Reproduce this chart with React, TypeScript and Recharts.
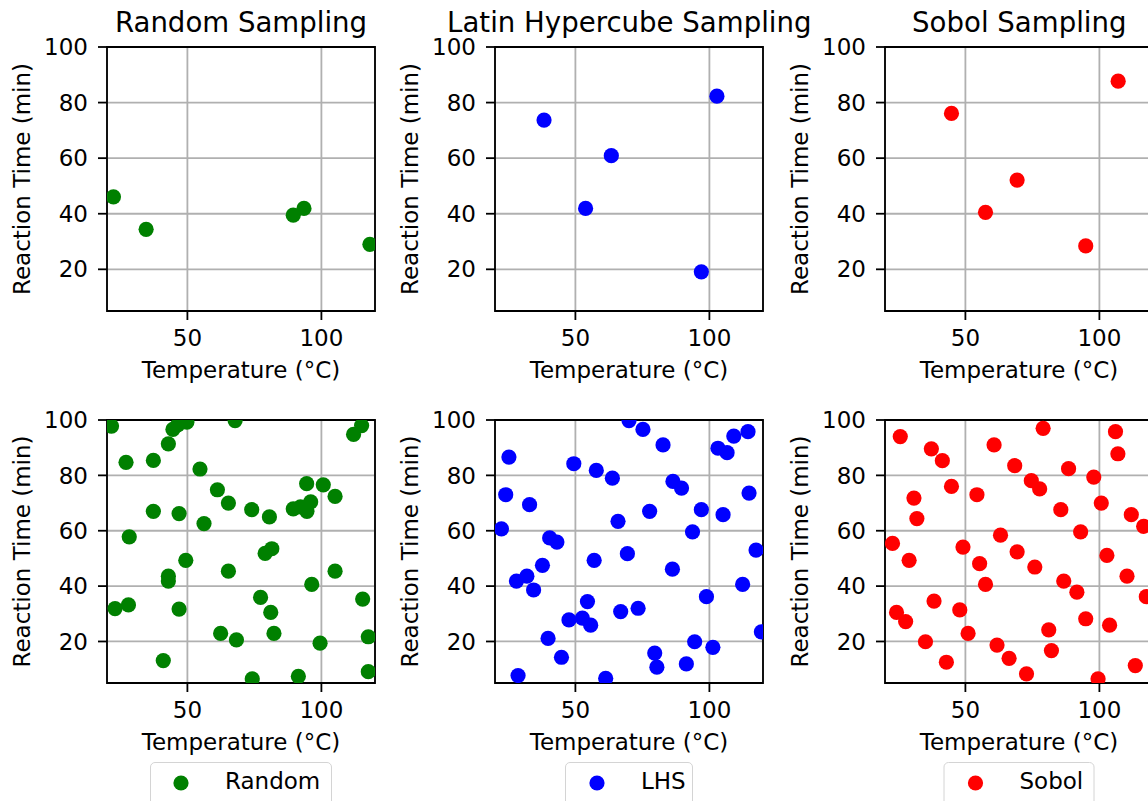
import React from 'react'
import {
  ScatterChart,
  Scatter,
  XAxis,
  YAxis,
  CartesianGrid,
  ReferenceArea,
  Legend,
} from 'recharts'

type Pt = [number, number] // [temperature °C, reaction time min]

// top row: 5 samples each
const randomFive: Pt[] = [[22.4, 46.1], [34.6, 34.4], [89.5, 39.5], [93.5, 41.9], [118.1, 29.0]]
const lhsFive: Pt[] = [[38.3, 73.7], [102.8, 82.3], [63.4, 60.9], [53.8, 41.9], [97.0, 19.1]]
const sobolFive: Pt[] = [[44.8, 76.1], [107.0, 87.7], [69.3, 52.1], [57.5, 40.5], [94.9, 28.4]]

// bottom row: 50 samples each
const randomFifty: Pt[] = [
  [21.7, 97.8], [27.1, 84.7], [37.3, 85.4], [42.9, 91.4], [44.6, 96.6], [46.4, 98.2], [49.8, 99.2],
  [67.8, 99.8], [112.0, 94.8], [115.0, 98.0], [54.7, 82.3], [61.2, 74.8], [65.3, 70.0], [74.0, 67.6],
  [80.6, 65.0], [37.3, 67.0], [46.9, 66.2], [56.2, 62.6], [28.3, 57.8], [94.5, 77.0], [100.7, 76.6],
  [105.1, 72.4], [89.5, 67.9], [92.2, 68.6], [94.6, 67.0], [96.0, 70.4], [79.0, 51.8], [81.5, 53.5],
  [49.4, 49.3], [42.9, 43.6], [42.9, 41.8], [65.3, 45.4], [105.1, 45.4], [96.4, 40.6], [23.0, 31.9],
  [28.0, 33.2], [46.9, 31.7], [77.3, 35.9], [81.1, 30.5], [115.4, 35.3], [62.4, 22.9], [68.3, 20.6],
  [82.3, 22.9], [99.5, 19.4], [117.5, 21.7], [41.0, 13.1], [74.2, 6.5], [91.4, 7.4], [117.5, 9.1],
]
const lhsFifty: Pt[] = [
  [22.4, 60.7], [24.0, 73.0], [25.2, 86.6], [32.9, 69.4], [28.0, 41.8], [31.9, 43.6], [34.4, 38.6],
  [37.7, 47.5], [40.4, 57.4], [43.1, 55.9], [49.4, 84.2], [57.8, 81.8], [63.8, 79.0], [70.0, 99.8],
  [75.2, 96.6], [82.7, 91.0], [86.4, 77.8], [89.6, 75.4], [77.7, 67.0], [65.9, 63.4], [57.0, 49.3],
  [69.4, 51.7], [86.2, 46.1], [93.7, 59.6], [97.0, 67.6], [103.2, 89.8], [106.6, 88.2], [109.1, 94.2],
  [114.4, 95.8], [114.8, 73.6], [105.1, 65.8], [117.4, 53.0], [112.4, 40.6], [98.9, 36.2], [119.4, 23.5],
  [94.5, 19.9], [101.3, 17.9], [91.4, 11.9], [79.6, 15.8], [80.4, 10.7], [73.4, 32.0], [66.9, 30.8],
  [54.5, 34.4], [52.6, 28.4], [55.7, 25.9], [47.6, 27.8], [39.8, 21.1], [44.8, 14.3], [28.6, 7.7],
  [61.3, 6.7],
]
const sobolFifty: Pt[] = [
  [25.7, 94.0], [37.3, 89.6], [41.4, 85.3], [44.8, 76.0], [30.8, 71.8], [31.9, 64.4], [22.8, 55.4],
  [29.0, 49.3], [24.3, 30.5], [27.7, 27.2], [38.3, 34.6], [35.1, 19.9], [42.9, 12.5], [47.9, 31.4],
  [51.0, 22.9], [49.1, 54.1], [55.3, 48.1], [57.5, 40.6], [54.3, 73.0], [60.7, 91.0], [63.1, 58.4],
  [61.8, 18.7], [66.3, 13.9], [72.8, 8.3], [68.4, 83.5], [69.3, 52.4], [75.9, 46.9], [74.6, 78.1],
  [77.7, 75.1], [79.0, 97.0], [81.1, 24.2], [82.1, 16.7], [85.6, 67.6], [86.7, 41.8], [88.5, 82.4],
  [91.6, 37.8], [93.0, 59.6], [94.9, 28.2], [97.9, 79.4], [100.7, 70.0], [106.0, 95.8], [106.9, 87.8],
  [102.8, 51.1], [110.3, 43.6], [103.8, 25.9], [99.5, 6.5], [113.4, 11.3], [111.9, 65.8], [116.5, 61.6],
  [117.5, 36.2],
]

const titles = ['Random Sampling', 'Latin Hypercube Sampling', 'Sobol Sampling']
const legendNames = ['Random', 'LHS', 'Sobol']
const colors = ['#008000', '#0000ff', '#ff0000']
const xTicks = [50, 100]
const yTicks = [20, 40, 60, 80, 100]

const FONT = '"DejaVu Sans", sans-serif'
const plotLefts = [107, 495.3, 885.3]
const legendWidths = [182, 128, 151]
const YAXIS_W = 107
const PLOT_W = 268
const CHART_W = YAXIS_W + PLOT_W + 12
const DOT_R = 7.6

const toRows = (pts: Pt[]) => pts.map(([temp, time]) => ({ temp, time }))

const tickStyle = { fontSize: 23, fill: '#000', fontFamily: FONT }

function XLabel(props: any) {
  const { x, y, width } = props.viewBox
  return (
    <text x={x + width / 2} y={y + 67} textAnchor="middle" fontSize={23} fontFamily={FONT} fill="#000">
      Temperature (°C)
    </text>
  )
}

function YLabel(props: any) {
  const { x, y, height } = props.viewBox
  const cx = x + 22.5
  const cy = y + height / 2
  return (
    <text x={cx} y={cy} dy="0.33em" transform={`rotate(-90 ${cx} ${cy})`} textAnchor="middle"
      fontSize={23} fontFamily={FONT} fill="#000">
      Reaction Time (min)
    </text>
  )
}

function LegendBox({ name, color, width }: { name: string; color: string; width: number }) {
  return (
    <div style={{ position: 'relative', width: '100%', height: 50 }}>
      <div style={{
        position: 'absolute', left: YAXIS_W + PLOT_W / 2, top: 0, transform: 'translateX(-50%)',
        width, height: 60, boxSizing: 'border-box', border: '1.8px solid #d4d4d4', borderRadius: 5,
        background: '#fff',
      }}>
        <svg width={width} height={60} style={{ position: 'absolute', left: -1.8, top: -1.8 }}>
          <circle cx={32} cy={22} r={DOT_R} fill={color} />
          <text x={76} y={28} fontSize={23} fontFamily={FONT} fill="#000">{name}</text>
        </svg>
      </div>
    </div>
  )
}

function Panel({ col, pts, top, height, marginTop, axisHeight, withLegend }: {
  col: number; pts: Pt[]; top: number; height: number; marginTop: number; axisHeight: number; withLegend: boolean
}) {
  const color = colors[col]
  return (
    <div style={{ position: 'absolute', left: plotLefts[col] - YAXIS_W, top }}>
      <ScatterChart width={CHART_W} height={height} margin={{ top: marginTop, right: 12, bottom: 0, left: 0 }}>
        <XAxis type="number" dataKey="temp" domain={[20, 120]} ticks={xTicks} interval={0} allowDataOverflow
          height={axisHeight} axisLine={false} tickSize={9} tickMargin={10}
          tickLine={{ stroke: '#000', strokeWidth: 1.8 }} tick={tickStyle} label={<XLabel />} />
        <YAxis type="number" dataKey="time" domain={[5, 100]} ticks={yTicks} interval={0} allowDataOverflow
          width={YAXIS_W} axisLine={false} tickSize={9} tickMargin={10}
          tickLine={{ stroke: '#000', strokeWidth: 1.8 }} tick={tickStyle} label={<YLabel />} />
        <Scatter name={legendNames[col]} data={toRows(pts)} fill={color} isAnimationActive={false} legendType="circle"
          shape={(p: any) => <circle cx={p.cx} cy={p.cy} r={DOT_R} fill={color} />} />
        <CartesianGrid stroke="#b0b0b0" strokeWidth={1.8} />
        <ReferenceArea x1={20} x2={120} y1={5} y2={100} fill="none" stroke="#000" strokeWidth={1.8} />
        {withLegend && (
          <Legend verticalAlign="bottom"
            content={() => <LegendBox name={legendNames[col]} color={color} width={legendWidths[col]} />} />
        )}
      </ScatterChart>
    </div>
  )
}

export default function App() {
  const topSets = [randomFive, lhsFive, sobolFive]
  const bottomSets = [randomFifty, lhsFifty, sobolFifty]
  return (
    <div style={{ position: 'absolute', left: 0, top: 0, width: 1148, height: 801, overflow: 'hidden', background: '#fff' }}>
      <svg width={1148} height={60} style={{ position: 'absolute', left: 0, top: 0 }}>
        {titles.map((t, i) => (
          <text key={t} x={plotLefts[i] + PLOT_W / 2} y={31.5} textAnchor="middle" fontSize={27.6}
            fontFamily={FONT} fill="#000">{t}</text>
        ))}
      </svg>
      {topSets.map((pts, i) => (
        <Panel key={'t' + i} col={i} pts={pts} top={0} height={401} marginTop={47} axisHeight={90} withLegend={false} />
      ))}
      {bottomSets.map((pts, i) => (
        <Panel key={'b' + i} col={i} pts={pts} top={400} height={412} marginTop={20} axisHeight={79} withLegend />
      ))}
    </div>
  )
}
